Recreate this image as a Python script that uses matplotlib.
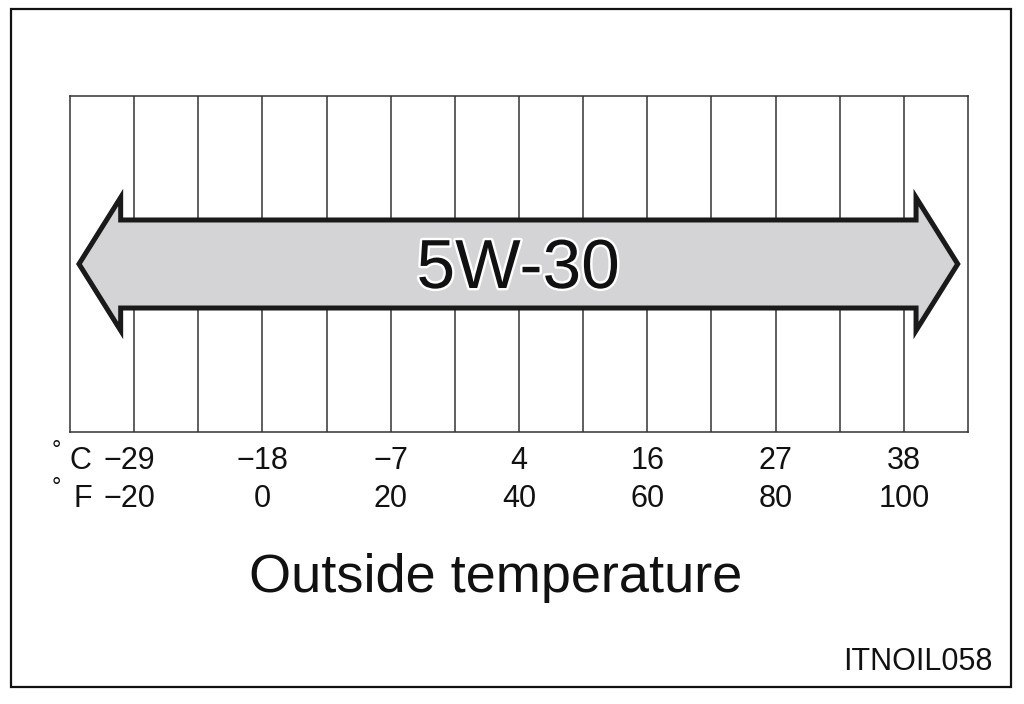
import numpy as np
import matplotlib
matplotlib.use("Agg")
from matplotlib import pyplot as plt
from matplotlib.patches import Polygon, Rectangle
import matplotlib.patheffects as pe

plt.rcParams['font.family'] = ['Liberation Sans', 'DejaVu Sans']

# temperature scale (deg F on the axis, deg C labels beside)
grid_f = np.arange(-30, 111, 10)
tick_f = [-20, 0, 20, 40, 60, 80, 100]
tick_c = [-29, -18, -7, 4, 16, 27, 38]
grade = "5W-30"
grade_lo_f = -28.6   # arrow tips
grade_hi_f = 108.4
code = "ITNOIL058"

W, H = 1024, 704
fig = plt.figure(figsize=(W / 100, H / 100), dpi=100)
ax = fig.add_axes([70 / W, (H - 432) / H, 898 / W, 336 / H])
ax.set_xlim(grid_f[0], grid_f[-1])
ax.set_ylim(0, 1)
ax.set_xticks([])
ax.set_yticks([])
for s in ax.spines.values():
    s.set_linewidth(1.1)
    s.set_color('#333333')

for f in grid_f[1:-1]:
    ax.axvline(f, color='#333333', lw=1.1)

# the double arrow
head = 6.5
sh, hh = 0.131, 0.198
lo, hi = grade_lo_f, grade_hi_f
pts = [(lo, 0.5), (lo + head, 0.5 + hh), (lo + head, 0.5 + sh),
       (hi - head, 0.5 + sh), (hi - head, 0.5 + hh), (hi, 0.5),
       (hi - head, 0.5 - hh), (hi - head, 0.5 - sh),
       (lo + head, 0.5 - sh), (lo + head, 0.5 - hh)]
ax.add_patch(Polygon(pts, closed=True, facecolor='#d4d4d6', edgecolor='#1a1a1a',
                     lw=3.6, joinstyle='miter', zorder=3))
ax.text((lo + hi) / 2, 0.4286, grade, ha='center', va='baseline', fontsize=50,
        color='#111111', zorder=4,
        path_effects=[pe.withStroke(linewidth=3.5, foreground='white')])

# scale labels
tr = ax.get_xaxis_transform()
for i, (f, c) in enumerate(zip(tick_f, tick_c)):
    x = f - 0.7 if i == 0 else f
    ax.text(x, -0.110, f"{c}".replace('-', '\u2212'), transform=tr,
            ha='center', va='baseline', fontsize=22, color='#111111')
    ax.text(x, -0.223, f"{f}".replace('-', '\u2212'), transform=tr,
            ha='center', va='baseline', fontsize=22, color='#111111')
ax.text(-26.6, -0.110, "C", transform=tr, ha='right', va='baseline', fontsize=22, color='#111111')
ax.text(-26.6, -0.223, "F", transform=tr, ha='right', va='baseline', fontsize=22, color='#111111')
ax.text(-32.2, -0.058, "\u00b0", transform=tr, ha='center', va='center', fontsize=17, color='#111111')
ax.text(-32.2, -0.168, "\u00b0", transform=tr, ha='center', va='center', fontsize=17, color='#111111')

ax.text(36.4, -0.476, "Outside temperature", transform=tr, ha='center', va='baseline',
        fontsize=39, color='#111111')

fig.text(992 / W, (H - 670) / H, code, ha='right', va='baseline', fontsize=22, color='#111111')

# outer frame
fig.add_artist(Rectangle((11 / W, (H - 687) / H), 1000 / W, 678 / H,
                         transform=fig.transFigure, fill=False,
                         edgecolor='#111111', lw=1.6))

fig.savefig("out.png", dpi=100)
